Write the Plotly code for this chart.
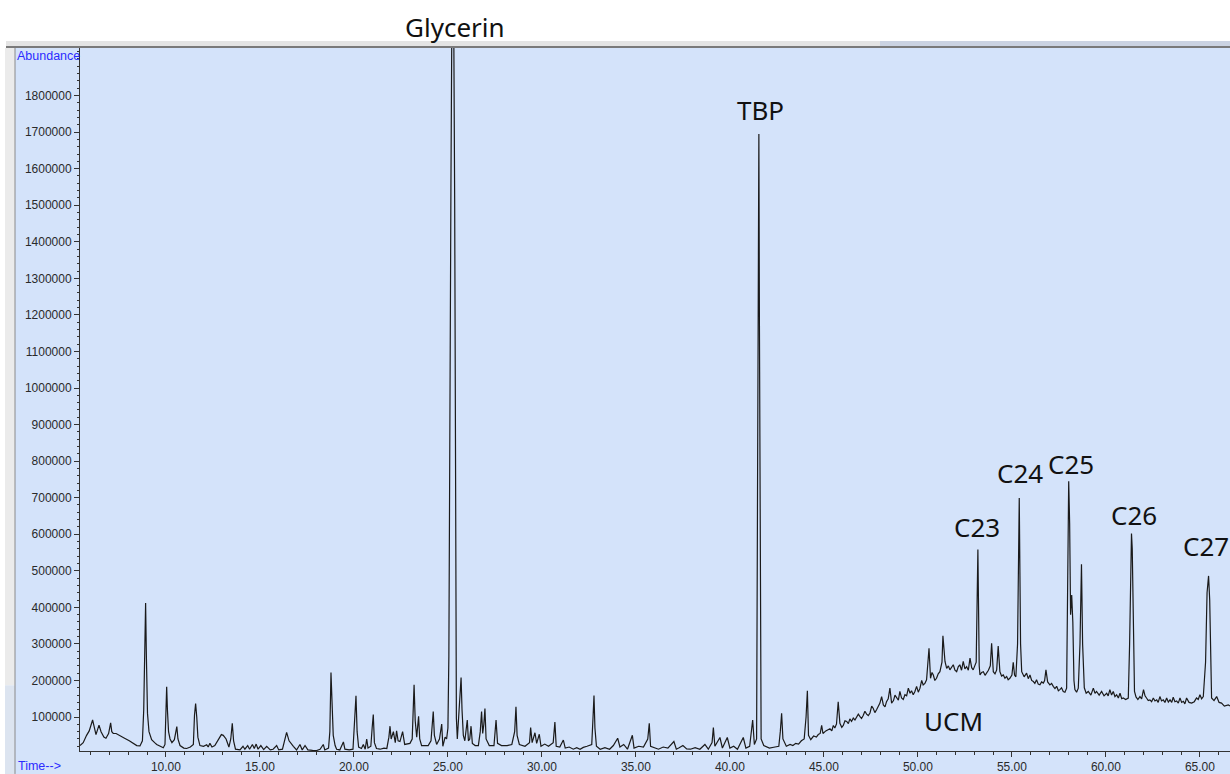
import plotly.graph_objects as go

# ---- Chromatogram trace: (retention time [min], abundance) ----
early_region = [
    (5.43, 22000), (5.60, 30000), (5.78, 50000), (5.92, 62000), (6.10, 92000), (6.20, 70000),
    (6.28, 52000), (6.44, 78000), (6.55, 60000), (6.70, 45000), (6.81, 42000), (6.95, 55000),
    (7.06, 84000), (7.12, 60000), (7.20, 55000), (7.35, 55000), (7.56, 50000), (7.80, 42000),
    (8.05, 35000), (8.27, 28000), (8.45, 22000), (8.62, 21000), (8.75, 35000), (8.82, 120000),
    (8.88, 320000), (8.92, 412000), (8.96, 270000), (9.02, 110000), (9.10, 60000), (9.24, 38000),
    (9.40, 30000), (9.51, 25000), (9.70, 20000), (9.86, 16000), (9.95, 25000), (9.99, 110000),
    (10.04, 183000), (10.08, 120000), (10.14, 60000), (10.22, 40000), (10.32, 30000), (10.45, 38000),
    (10.58, 74000), (10.64, 40000), (10.75, 22000), (10.95, 15000), (11.10, 14000), (11.30, 18000),
    (11.46, 25000), (11.52, 105000), (11.58, 137000), (11.64, 100000), (11.70, 45000), (11.81, 22000),
    (12.00, 20000), (12.17, 24000), (12.25, 18000), (12.34, 28000), (12.45, 18000), (12.60, 22000),
    (12.88, 48000), (12.95, 52000), (13.05, 50000), (13.20, 40000), (13.35, 18000), (13.45, 40000),
    (13.53, 83000), (13.60, 35000), (13.70, 12000), (13.94, 10000), (14.10, 20000), (14.20, 12000),
    (14.35, 22000), (14.45, 12000), (14.60, 25000), (14.70, 14000), (14.80, 26000), (14.90, 12000),
    (15.05, 22000), (15.20, 11000), (15.36, 20000), (15.55, 10000), (15.70, 12000), (15.89, 22000),
    (16.00, 10000), (16.20, 12000), (16.42, 58000), (16.55, 35000), (16.78, 20000), (16.95, 10000),
    (17.13, 25000), (17.25, 10000), (17.40, 22000), (17.55, 10000), (17.80, 9000), (18.02, 8500),
    (18.20, 12000), (18.37, 25000), (18.45, 10000), (18.65, 15000), (18.72, 60000), (18.78, 222000),
    (18.83, 150000), (18.90, 50000), (19.00, 22000), (19.08, 12000), (19.25, 10000), (19.44, 32000),
    (19.52, 12000), (19.75, 10000), (19.95, 12000), (20.05, 100000), (20.11, 158000), (20.17, 60000),
    (20.25, 18000), (20.40, 14000), (20.50, 25000), (20.60, 12000), (20.68, 40000), (20.75, 15000),
    (20.90, 20000), (20.97, 70000), (21.03, 107000), (21.09, 30000), (21.20, 14000), (21.39, 12000),
    (21.60, 15000), (21.75, 14000), (21.86, 45000), (21.92, 75000), (21.98, 40000), (22.10, 60000),
    (22.20, 30000), (22.27, 62000), (22.35, 35000),
]

mid_region = [
    (22.45, 33000), (22.59, 60000), (22.70, 25000), (22.98, 28000), (23.10, 40000), (23.15, 120000),
    (23.20, 188000), (23.26, 90000), (23.34, 45000), (23.44, 102000), (23.50, 40000), (23.60, 22000),
    (23.95, 22000), (24.10, 35000), (24.22, 115000), (24.28, 50000), (24.40, 25000), (24.55, 40000),
    (24.67, 81000), (24.73, 20000), (24.85, 45000), (24.93, 40000), (25.00, 70000), (25.05, 265000),
    (25.10, 1000000), (25.16, 1550000), (25.22, 2100000), (25.30, 2100000), (25.36, 1500000),
    (25.41, 400000), (25.45, 97000), (25.50, 40000), (25.58, 106000), (25.64, 150000), (25.70, 208000),
    (25.75, 120000), (25.82, 50000), (25.90, 35000), (26.03, 92000), (26.09, 35000), (26.16, 40000),
    (26.23, 75000), (26.30, 28000), (26.45, 22000), (26.62, 22000), (26.72, 60000), (26.79, 115000),
    (26.85, 55000), (26.91, 80000), (26.97, 123000), (27.03, 40000), (27.20, 22000), (27.45, 22000),
    (27.56, 92000), (27.64, 28000), (27.85, 22000), (28.15, 22000), (28.40, 25000), (28.55, 60000),
    (28.62, 128000), (28.68, 50000), (28.80, 25000), (29.10, 20000), (29.34, 30000), (29.40, 71000),
    (29.48, 30000), (29.63, 57000), (29.72, 28000), (29.86, 53000), (29.95, 20000), (30.15, 26000),
    (30.35, 20000), (30.60, 30000), (30.69, 86000), (30.76, 20000), (30.95, 18000), (31.14, 37000),
    (31.24, 15000), (31.45, 18000), (31.67, 12000), (31.85, 16000), (32.03, 12000), (32.20, 17000),
    (32.40, 20000), (32.65, 25000), (32.72, 100000), (32.77, 159000), (32.82, 70000), (32.90, 20000),
    (33.10, 12000), (33.35, 16000), (33.60, 12000), (33.80, 22000), (34.03, 42000), (34.15, 18000),
    (34.35, 25000), (34.55, 12000), (34.81, 50000), (34.90, 15000), (35.15, 20000), (35.40, 18000),
    (35.63, 40000), (35.71, 83000), (35.78, 20000), (36.00, 16000), (36.20, 12000), (36.45, 18000),
    (36.70, 15000), (37.02, 33000), (37.15, 12000), (37.30, 16000), (37.50, 22000), (37.70, 13000),
    (37.90, 12000), (38.15, 16000), (38.40, 12000), (38.67, 25000), (38.85, 12000), (39.05, 30000),
    (39.12, 71000), (39.20, 20000), (39.47, 44000), (39.60, 15000), (39.86, 44000), (40.00, 15000),
    (40.20, 20000), (40.40, 12000), (40.71, 44000), (40.85, 15000), (41.05, 20000), (41.21, 92000),
    (41.30, 25000), (41.42, 40000), (41.47, 600000), (41.50, 1175000), (41.54, 1695000),
    (41.57, 1175000), (41.61, 300000), (41.66, 40000), (41.80, 22000), (42.10, 15000), (42.40, 18000),
    (42.60, 20000), (42.68, 60000), (42.75, 110000), (42.82, 40000), (43.00, 20000), (43.20, 25000),
    (43.35, 22000), (43.50, 28000), (43.65, 26000), (43.80, 35000), (43.95, 40000), (44.05, 100000),
    (44.12, 172000), (44.18, 50000), (44.30, 38000), (44.45, 48000), (44.60, 45000), (44.70, 52000),
    (44.80, 55000), (44.88, 77000), (44.95, 55000), (45.10, 62000),
]

late_region = [
    (45.32, 68000), (45.42, 62000), (45.50, 77000), (45.58, 70000), (45.67, 81000), (45.76, 142000),
    (45.85, 83000), (45.95, 72000), (46.03, 77000), (46.12, 90000), (46.21, 88000), (46.30, 82000),
    (46.38, 95000), (46.47, 88000), (46.56, 97000), (46.65, 92000), (46.74, 99000), (46.83, 108000),
    (46.92, 101000), (47.00, 96000), (47.09, 104000), (47.18, 116000), (47.27, 108000), (47.36, 104000),
    (47.45, 111000), (47.54, 130000), (47.62, 124000), (47.71, 112000), (47.80, 120000), (47.90, 128000),
    (47.98, 138000), (48.07, 156000), (48.16, 133000), (48.25, 128000), (48.33, 142000), (48.42, 150000),
    (48.51, 179000), (48.60, 138000), (48.70, 145000), (48.78, 160000), (48.87, 152000), (48.96, 146000),
    (49.04, 170000), (49.13, 152000), (49.22, 148000), (49.31, 161000), (49.40, 158000), (49.49, 179000),
    (49.58, 165000), (49.66, 172000), (49.75, 161000), (49.84, 170000), (49.93, 184000), (50.02, 168000),
    (50.11, 179000), (50.20, 200000), (50.28, 188000), (50.37, 192000), (50.46, 202000), (50.59, 288000),
    (50.67, 206000), (50.75, 222000), (50.82, 215000), (50.90, 200000), (50.99, 206000), (51.08, 218000),
    (51.17, 224000), (51.28, 250000), (51.33, 322000), (51.38, 290000), (51.44, 252000), (51.53, 233000),
    (51.62, 240000), (51.70, 229000), (51.79, 236000), (51.88, 243000), (51.97, 228000), (52.06, 224000),
    (52.15, 238000), (52.23, 243000), (52.32, 228000), (52.41, 252000), (52.50, 232000), (52.59, 238000),
    (52.68, 228000), (52.77, 261000), (52.86, 235000), (52.94, 229000), (53.10, 250000), (53.19, 558000),
    (53.26, 240000), (53.30, 215000), (53.39, 222000), (53.48, 224000), (53.57, 214000), (53.65, 220000),
    (53.75, 228000), (53.85, 240000), (53.92, 302000), (54.01, 224000), (54.10, 218000), (54.19, 229000),
    (54.27, 294000), (54.36, 224000), (54.45, 212000), (54.54, 215000), (54.63, 206000), (54.72, 211000),
    (54.80, 202000), (54.89, 206000), (55.00, 215000), (55.07, 250000), (55.14, 215000), (55.21, 210000),
    (55.30, 300000), (55.39, 699000), (55.46, 300000), (55.52, 224000), (55.65, 210000), (55.78, 220000),
    (55.87, 205000), (55.96, 215000), (56.05, 200000), (56.14, 197000), (56.22, 192000), (56.31, 202000),
    (56.40, 190000), (56.49, 188000), (56.58, 196000), (56.67, 193000), (56.74, 200000), (56.81, 229000),
    (56.90, 196000), (57.02, 188000), (57.11, 192000), (57.20, 184000), (57.29, 178000), (57.38, 184000),
    (57.47, 172000), (57.55, 175000), (57.64, 180000), (57.73, 170000), (57.82, 168000), (57.91, 179000),
    (57.96, 400000), (58.02, 745000), (58.07, 630000), (58.12, 380000), (58.18, 434000), (58.24, 360000),
    (58.30, 200000), (58.35, 175000), (58.44, 168000), (58.53, 179000), (58.62, 300000), (58.70, 518000),
    (58.76, 300000), (58.85, 180000), (58.95, 165000), (59.06, 170000), (59.20, 160000), (59.33, 179000),
    (59.42, 165000), (59.50, 170000), (59.64, 160000), (59.77, 170000), (59.90, 158000), (60.04, 165000),
    (60.12, 158000), (60.21, 175000), (60.30, 160000), (60.39, 170000), (60.48, 156000), (60.57, 161000),
    (60.66, 152000), (60.75, 165000), (60.84, 150000), (60.92, 152000), (61.05, 148000), (61.19, 152000),
    (61.26, 300000), (61.32, 560000), (61.36, 602000), (61.40, 560000), (61.46, 300000), (61.52, 170000),
    (61.60, 155000), (61.70, 148000), (61.81, 156000), (61.90, 150000), (62.00, 175000), (62.08, 158000),
    (62.16, 152000), (62.25, 145000), (62.34, 147000), (62.43, 142000), (62.52, 152000), (62.61, 144000),
    (62.70, 147000), (62.78, 140000), (62.87, 156000), (62.96, 144000), (63.05, 147000), (63.14, 140000),
    (63.23, 152000), (63.32, 141000), (63.41, 147000), (63.50, 140000), (63.58, 154000), (63.67, 142000),
    (63.76, 144000), (63.85, 138000), (63.94, 152000), (64.03, 140000), (64.12, 143000), (64.20, 136000),
    (64.29, 152000), (64.42, 140000), (64.56, 138000), (64.70, 142000), (64.82, 152000), (64.91, 148000),
    (65.00, 161000), (65.09, 150000), (65.18, 156000), (65.30, 250000), (65.38, 440000), (65.46, 486000),
    (65.52, 420000), (65.58, 200000), (65.62, 152000), (65.75, 145000), (65.89, 156000), (66.02, 140000),
    (66.15, 138000), (66.30, 130000), (66.51, 133000), (66.70, 128000),
]

# ---- Peak labels (Glycerin sits above the plot area, so it is placed in paper space) ----
peak_labels = ["TBP", "C23", "C24", "C25", "C26", "C27", "UCM"]
label_time = [41.60, 53.14, 55.43, 58.14, 61.49, 65.32, 51.91]
label_abund = [1761000, 621000, 768000, 793000, 654000, 569000, 89000]
top_label = "Glycerin"

y_tick_values = list(range(100000, 1900000, 100000))

points = early_region + mid_region + late_region
time_min = [p[0] for p in points]
abundance = [p[1] for p in points]

PANEL = "#D4E3FA"
LABEL_FONT = dict(family="Noto Sans", size=26, color="#111111")

fig = go.Figure()
fig.add_trace(go.Scatter(
    x=time_min, y=abundance, mode="lines",
    line=dict(color="#1a1a1a", width=1.2),
    hoverinfo="skip", showlegend=False,
))

# window decorations (paper coordinates; plot area spans px 80..1230 x 48..753)
def px(x):
    return (x - 80) / 1150

def py(y):
    return (753 - y) / 705

for txt, tx, ty in zip(peak_labels, label_time, label_abund):
    fig.add_annotation(x=tx, y=ty, xref="x", yref="y", text=txt, showarrow=False,
                       font=LABEL_FONT, xanchor="center", yanchor="middle")

fig.add_annotation(x=px(455), y=py(27), xref="paper", yref="paper", text=top_label,
                   showarrow=False, font=LABEL_FONT, xanchor="center", yanchor="middle")

# panel label texts
fig.add_annotation(x=px(15), y=py(56), xref="paper", yref="paper", text="Abundance",
                   showarrow=False, xanchor="left", yanchor="middle",
                   font=dict(family="Liberation Sans", size=12.5, color="#2b2bff"))
fig.add_annotation(x=px(16), y=py(768), xref="paper", yref="paper", text="Time-->",
                   showarrow=False, xanchor="left", yanchor="middle",
                   font=dict(family="Liberation Sans", size=12.5, color="#2b2bff"))

shapes = [
    dict(type="rect", xref="paper", yref="paper", x0=px(15), x1=px(1232), y0=py(776), y1=py(48),
         fillcolor=PANEL, line=dict(width=0), layer="below"),
    dict(type="rect", xref="paper", yref="paper", x0=px(5), x1=px(15), y0=py(687), y1=py(48),
         fillcolor="#EBEBEB", line=dict(width=0), layer="below"),
    dict(type="rect", xref="paper", yref="paper", x0=px(5), x1=px(15), y0=py(776), y1=py(687),
         fillcolor="#DCE4F0", line=dict(width=0), layer="below"),
    dict(type="rect", xref="paper", yref="paper", x0=px(6), x1=px(880), y0=py(46), y1=py(41),
         fillcolor="#E4E4E4", line=dict(width=0), layer="below"),
    dict(type="rect", xref="paper", yref="paper", x0=px(880), x1=px(1232), y0=py(46), y1=py(41),
         fillcolor="#CBD3E2", line=dict(width=0), layer="below"),
    dict(type="line", xref="paper", yref="paper", x0=px(6), x1=px(1232), y0=py(47), y1=py(47),
         line=dict(color="#7A7A7A", width=2)),
    dict(type="line", xref="paper", yref="paper", x0=px(15), x1=px(15), y0=py(48), y1=py(776),
         line=dict(color="#8A8A8A", width=1)),
]
fig.update_layout(shapes=shapes)

axis_font = dict(family="Liberation Sans", size=12, color="#2a2a2a")

fig.update_xaxes(
    range=[5.43, 66.6], showgrid=False, zeroline=False,
    showline=True, linecolor="#333333", linewidth=1,
    ticks="outside", ticklen=5, tickcolor="#333333", tickwidth=1,
    dtick=5, tick0=0, tickformat=".2f", tickfont=axis_font,
    minor=dict(dtick=1, tick0=0, ticks="outside", ticklen=3, tickcolor="#333333", showgrid=False),
)
fig.update_yaxes(
    range=[7100, 1930000], showgrid=False, zeroline=False,
    showline=True, linecolor="#333333", linewidth=1,
    ticks="outside", ticklen=5, tickcolor="#333333", tickwidth=1,
    tickmode="array", tickvals=y_tick_values, ticktext=[str(v) for v in y_tick_values],
    tickfont=axis_font,
    minor=dict(dtick=20000, tick0=0, ticks="outside", ticklen=2, tickcolor="#333333", showgrid=False),
)

fig.update_layout(
    width=1230, height=774,
    margin=dict(l=80, r=0, t=48, b=21, pad=0),
    paper_bgcolor="white", plot_bgcolor=PANEL,
    showlegend=False,
)

fig.write_html("out.html", include_plotlyjs=True, config={"displayModeBar": False})
